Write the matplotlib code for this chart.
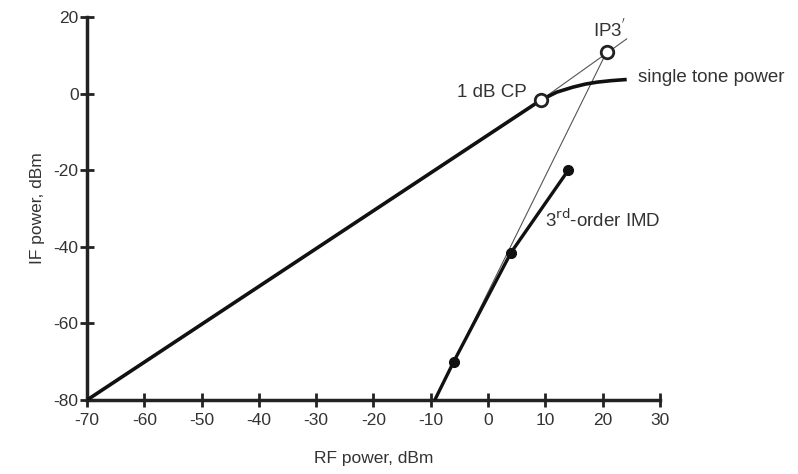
import numpy as np
import matplotlib
matplotlib.use("Agg")
import matplotlib.pyplot as plt

plt.rcParams['font.family'] = ['Liberation Sans', 'DejaVu Sans']
plt.rcParams['axes.unicode_minus'] = False

# single tone output power (linear up to CP, then compressing)
tone_rf = [-70, 9.3, 12, 14.8, 17, 19, 21.5, 24.2]
tone_if = [-80, -1.6, 0.4, 1.7, 2.5, 3.0, 3.4, 3.7]

# 3rd-order IMD measured points
imd_rf = [-9.3, -6, 4, 14]
imd_if = [-80, -70, -41.5, -20]
imd_dot_rf = [-6, 4, 14]
imd_dot_if = [-70, -41.5, -20]

# extrapolation lines
gain_ext_rf = [9.3, 24.2]
gain_ext_if = [-1.6, 14.3]
imd_ext_rf = [-9.3, 20.7]
imd_ext_if = [-80, 10.9]

cp_rf, cp_if = 9.3, -1.6
ip3_rf, ip3_if = 20.7, 10.9

x_ticks = list(range(-70, 31, 10))
y_ticks = list(range(-80, 21, 20))

fig = plt.figure(figsize=(7.98, 4.74), dpi=100)
ax = fig.add_axes([0.109, 0.156, 0.718, 0.808])

ax.plot(gain_ext_rf, gain_ext_if, color='#555555', lw=0.8, zorder=2)
ax.plot(imd_ext_rf, imd_ext_if, color='#555555', lw=0.8, zorder=2)
ax.plot(tone_rf, tone_if, color='#111111', lw=2.6, zorder=3, solid_capstyle='butt')
ax.plot(imd_rf, imd_if, color='#111111', lw=2.4, zorder=3)
ax.plot(imd_dot_rf, imd_dot_if, 'o', color='#111111', ms=7, zorder=4)
ax.plot([cp_rf, ip3_rf], [cp_if, ip3_if], 'o', mfc='white', mec='#222222',
        mew=2, ms=9, ls='none', zorder=5)

txt = dict(fontsize=13.5, color='#333333')
ax.text(6.8, 0.4, '1 dB CP', ha='right', va='center', **txt)
ax.text(18.3, 16.6, "IP3$^{'}$", ha='left', va='center', **txt)
ax.text(26.2, 4.3, 'single tone power', ha='left', va='center', **txt)
ax.text(9.9, -33, '3$^{\\rm rd}$-order IMD', ha='left', va='center', **txt)

ax.set_xlim(-70, 30)
ax.set_ylim(-80, 20)
ax.set_xticks(x_ticks)
ax.set_yticks(y_ticks)
ax.spines['top'].set_visible(False)
ax.spines['right'].set_visible(False)
for s in ('left', 'bottom'):
    ax.spines[s].set_linewidth(2.5)
    ax.spines[s].set_color('#222222')
ax.tick_params(direction='inout', length=10, width=2, color='#222222',
               labelsize=12.5, labelcolor='#333333', pad=1)
ax.tick_params(axis='x', pad=4)
ax.set_xlabel('RF power, dBm', fontsize=12.5, color='#333333', labelpad=17)
ax.set_ylabel('IF power, dBm', fontsize=12.5, color='#333333', labelpad=6)

fig.savefig('out.png', dpi=100)
